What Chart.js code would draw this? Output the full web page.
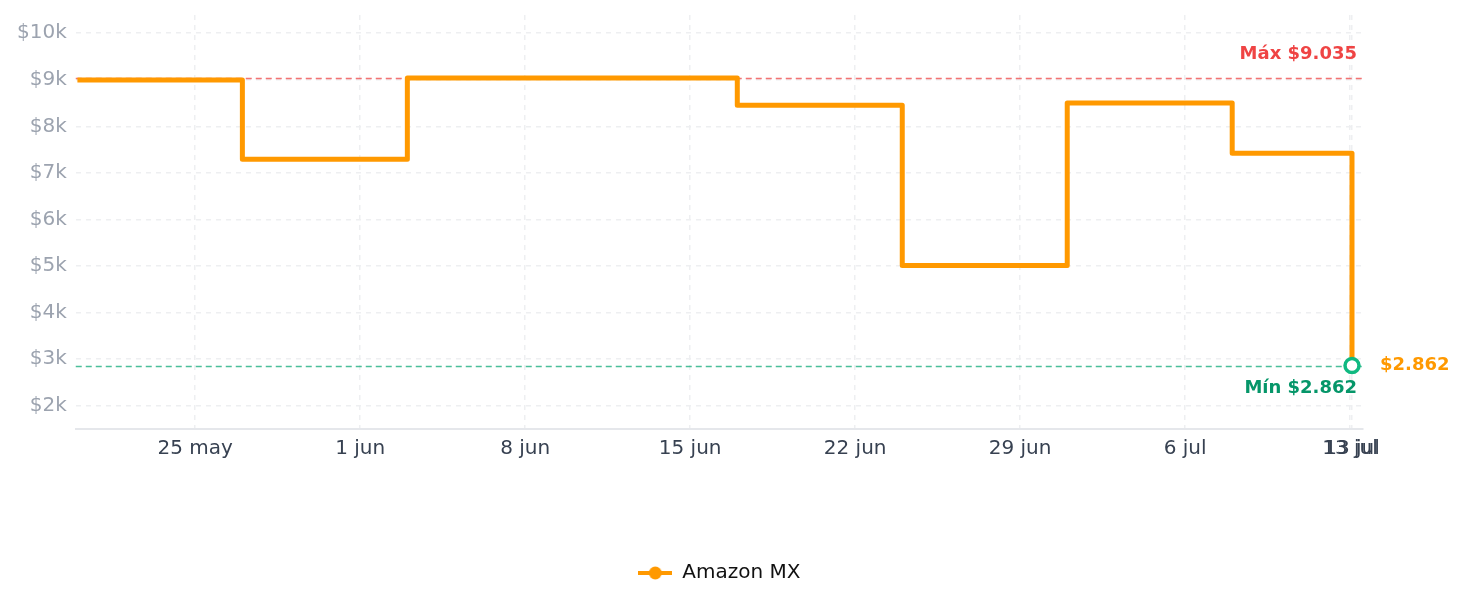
<!DOCTYPE html>
<html>
<head>
<meta charset="utf-8">
<script src="https://cdn.jsdelivr.net/npm/chart.js@4/dist/chart.umd.min.js"></script>
<style>
  html, body { margin: 0; padding: 0; background: #fff; }
  #wrap { width: 1465px; height: 607px; }
</style>
</head>
<body>
<div id="wrap"><canvas id="priceChart"></canvas></div>
<script>
// price history, Amazon MX
const startDate = '2025-05-20';
const priceDates = ['2025-05-20', '2025-05-27', '2025-06-03', '2025-06-17', '2025-06-24', '2025-07-01', '2025-07-08', '2025-07-13T02:00'];
const priceValues = [8995, 7295, 9035, 8450, 5010, 8500, 7420, 2862];
const tickDates = ['2025-05-25', '2025-06-01', '2025-06-08', '2025-06-15', '2025-06-22', '2025-06-29', '2025-07-06', '2025-07-13'];
const monthNames = ['ene', 'feb', 'mar', 'abr', 'may', 'jun', 'jul', 'ago', 'sep', 'oct', 'nov', 'dic'];
const yTicks = [2000, 3000, 4000, 5000, 6000, 7000, 8000, 9000, 10000];
const maxPrice = 9035;
const minPrice = 2862;
const seriesName = 'Amazon MX';

const DAY = 86400000;
const t0 = Date.parse(startDate + 'T00:00:00Z');
const toDay = s => (Date.parse(s.length > 10 ? s + ':00Z' : s + 'T00:00:00Z') - t0) / DAY;
const dayLabel = d => {
    const dt = new Date(t0 + Math.floor(d + 1e-6) * DAY);
    return dt.getUTCDate() + ' ' + monthNames[dt.getUTCMonth()];
};
const money = v => '$' + String(v).replace(/\B(?=(\d{3})+(?!\d))/g, '.');

const points = priceDates.map((d, i) => ({ x: toDay(d), y: priceValues[i] }));
const lastIndex = points.length - 1;
// the last point gets its own tick as well, like the original
const xTickValues = tickDates.map(toDay).concat([points[lastIndex].x]);

const ORANGE = '#ff9900';
const GREEN = '#10b981';
const FONT = 'DejaVu Sans';

// legend marker: line with a dot
const legendMark = document.createElement('canvas');
legendMark.width = 34;
legendMark.height = 14;
(function () {
    const c = legendMark.getContext('2d');
    c.strokeStyle = ORANGE;
    c.lineWidth = 4;
    c.beginPath();
    c.moveTo(0, 7);
    c.lineTo(34, 7);
    c.stroke();
    c.fillStyle = ORANGE;
    c.beginPath();
    c.arc(17, 7, 6.5, 0, Math.PI * 2);
    c.fill();
})();

const refLines = {
    id: 'refLines',
    afterLayout(chart) {
        // legend centred under the plot area, not the whole canvas
        if (chart.legend) {
            chart.legend.left = chart.chartArea.left;
            chart.legend.right = chart.chartArea.right;
        }
    },
    beforeDatasetsDraw(chart) {
        const { ctx, chartArea, scales: { y } } = chart;
        ctx.save();
        ctx.lineWidth = 1.6;
        ctx.setLineDash([6, 4]);
        [[maxPrice, 'rgba(239,68,68,0.75)'], [minPrice, 'rgba(16,170,120,0.75)']].forEach(([v, col]) => {
            const py = Math.round(y.getPixelForValue(v)) + 0.5;
            ctx.strokeStyle = col;
            ctx.beginPath();
            ctx.moveTo(chartArea.left, py);
            ctx.lineTo(chartArea.right, py);
            ctx.stroke();
        });
        ctx.restore();
    },
    afterDatasetsDraw(chart) {
        const { ctx, chartArea, scales: { x, y } } = chart;
        ctx.save();
        ctx.font = 'bold 18px "' + FONT + '"';
        ctx.textBaseline = 'middle';
        ctx.textAlign = 'right';
        ctx.fillStyle = '#ef4444';
        ctx.fillText('Máx ' + money(maxPrice), chartArea.right - 6, y.getPixelForValue(maxPrice) - 24);
        ctx.fillStyle = '#059669';
        ctx.fillText('Mín ' + money(minPrice), chartArea.right - 6, y.getPixelForValue(minPrice) + 23);
        ctx.textAlign = 'left';
        ctx.fillStyle = ORANGE;
        const last = points[lastIndex];
        ctx.fillText(money(last.y), x.getPixelForValue(last.x) + 28, y.getPixelForValue(last.y));
        ctx.restore();
    }
};

const ctx = document.getElementById('priceChart').getContext('2d');
const chart = new Chart(ctx, {
    type: 'line',
    data: {
        datasets: [{
            label: seriesName,
            data: points,
            stepped: 'before',
            borderColor: ORANGE,
            backgroundColor: ORANGE,
            borderWidth: 5,
            borderJoinStyle: 'round',
            fill: false,
            pointRadius: c => c.dataIndex === lastIndex ? 7 : 0,
            pointHoverRadius: c => c.dataIndex === lastIndex ? 7 : 0,
            pointBackgroundColor: '#ffffff',
            pointBorderColor: GREEN,
            pointBorderWidth: 3.5,
            pointStyle: 'circle'
        }]
    },
    options: {
        responsive: true,
        maintainAspectRatio: false,
        animation: false,
        layout: { padding: { top: 15, right: 102, left: 8, bottom: 0 } },
        plugins: {
            legend: {
                position: 'bottom',
                labels: {
                    color: '#111',
                    font: { family: FONT, size: 20 },
                    usePointStyle: true,
                    pointStyleWidth: 34,
                    padding: 10,
                    generateLabels: () => [{
                        text: seriesName,
                        pointStyle: legendMark,
                        fillStyle: ORANGE,
                        strokeStyle: ORANGE,
                        fontColor: '#111',
                        lineWidth: 0,
                        datasetIndex: 0
                    }]
                }
            },
            tooltip: { enabled: false }
        },
        scales: {
            x: {
                type: 'linear',
                min: -0.07,
                max: 54.55,
                afterBuildTicks: scale => { scale.ticks = xTickValues.map(v => ({ value: v })); },
                afterFit: scale => { scale.height += 84; },
                ticks: {
                    color: '#374151',
                    font: { family: FONT, size: 20 },
                    padding: 8,
                    maxRotation: 0,
                    autoSkip: false,
                    callback: v => dayLabel(v)
                },
                grid: { color: '#eeeff1', lineWidth: 1.5, drawTicks: false },
                border: { display: true, color: '#e5e7eb', width: 2, dash: [5, 5] }
            },
            y: {
                min: 1500,
                max: 10390,
                afterBuildTicks: scale => { scale.ticks = yTicks.map(v => ({ value: v })); },
                afterFit: scale => { scale.paddingTop = 0; scale.paddingBottom = 0; },
                ticks: {
                    color: '#9ca3af',
                    font: { family: FONT, size: 20 },
                    padding: 9,
                    callback: v => '$' + (v / 1000) + 'k'
                },
                grid: { color: '#eeeff1', lineWidth: 1.5, drawTicks: false },
                border: { display: false, dash: [5, 5] }
            }
        }
    },
    plugins: [refLines]
});

// extra room under the legend row
const legendFit = chart.legend.fit;
chart.legend.fit = function () {
    legendFit.call(this);
    this.height += 14;
};
chart.update();
</script>
</body>
</html>
